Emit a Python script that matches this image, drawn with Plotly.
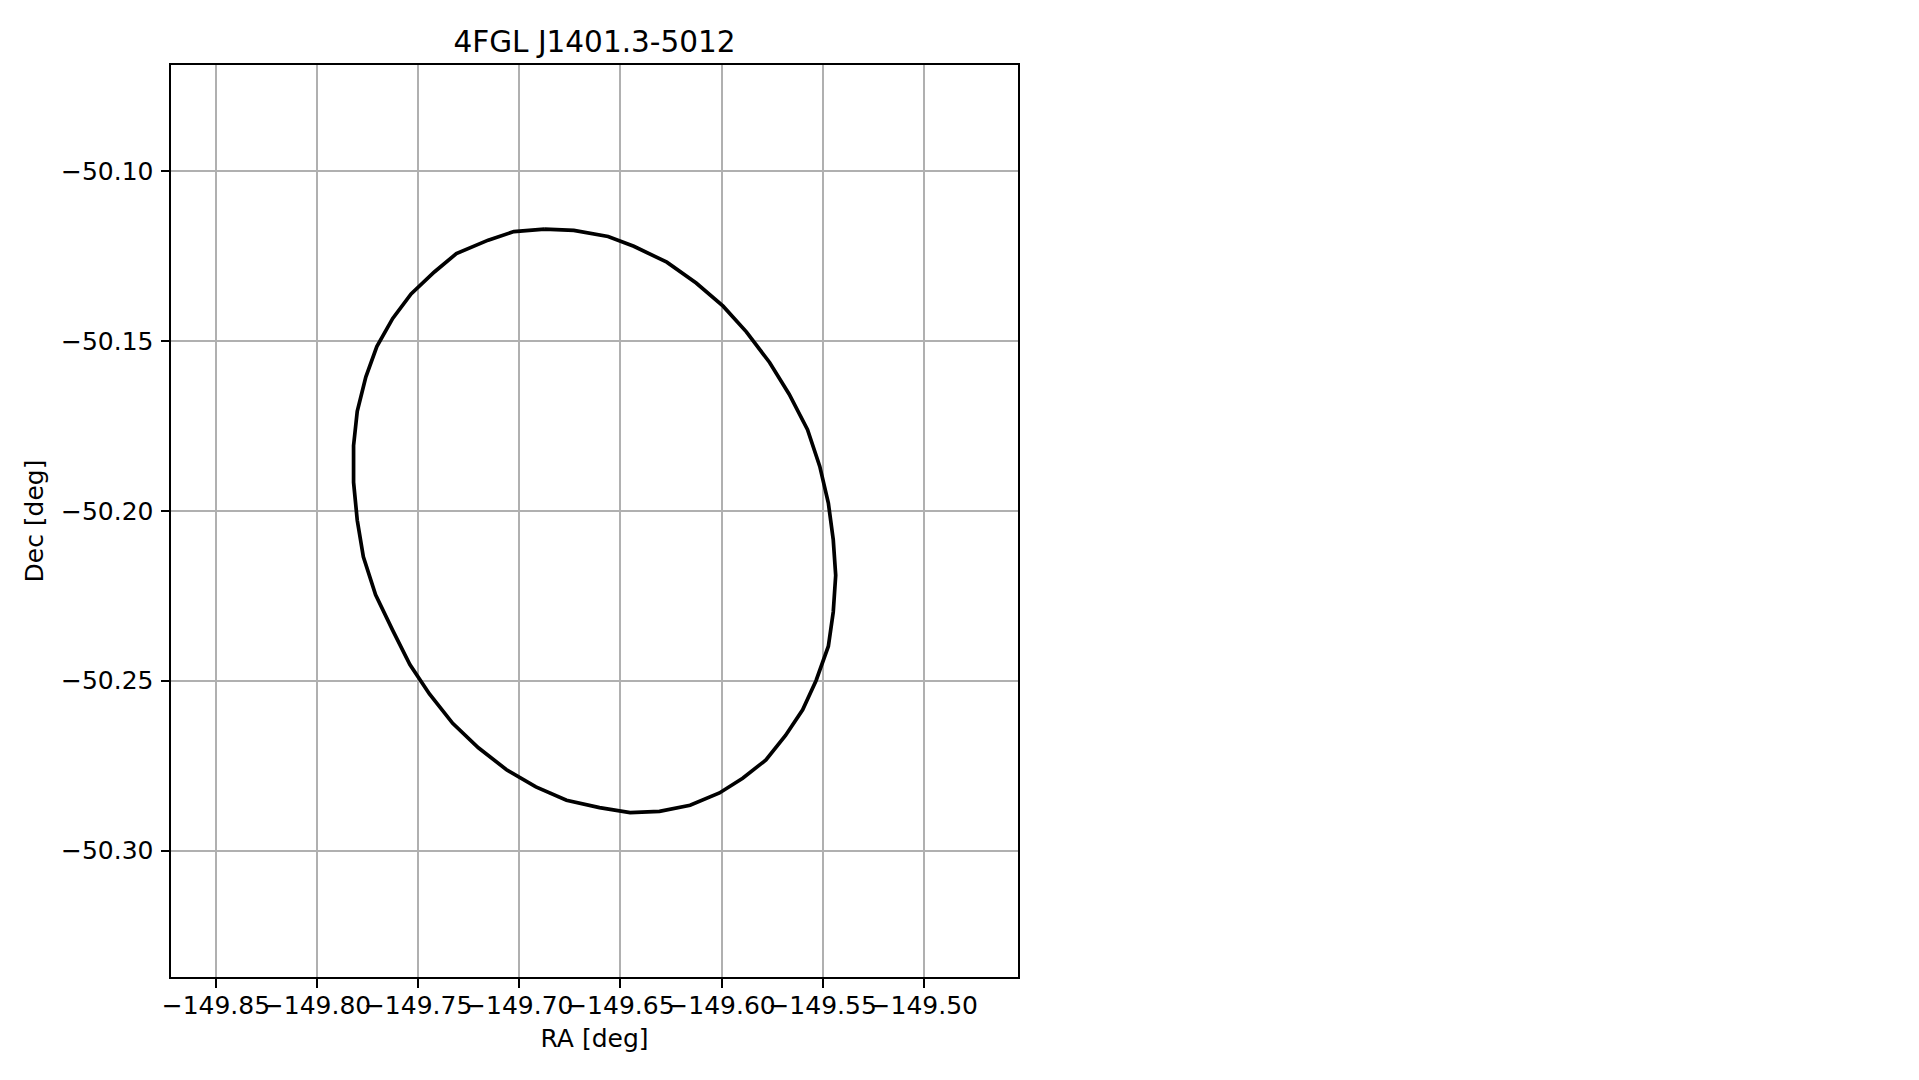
import plotly.graph_objects as go

# Ellipse vertices
ra = [-149.68754, -149.67302, -149.65608, -149.64337, -149.62704, -149.61252, -149.59921,
      -149.58771, -149.57622, -149.56654, -149.55746, -149.55141, -149.54717, -149.54475,
      -149.54354, -149.54475, -149.54717, -149.55322, -149.55988, -149.56835, -149.57803,
      -149.58953, -149.60102, -149.61554, -149.63067, -149.64519, -149.66032, -149.67665,
      -149.69178, -149.70630, -149.72021, -149.73292, -149.74441, -149.75409, -149.76257,
      -149.77104, -149.77709, -149.78011, -149.78193, -149.78193, -149.78011, -149.77588,
      -149.77043, -149.76257, -149.75349, -149.74199, -149.73110, -149.71537, -149.70267,
      -149.68754]
dec = [-50.11711, -50.11747, -50.11927, -50.12215, -50.12683, -50.13295, -50.13978,
       -50.14734, -50.15634, -50.16570, -50.17614, -50.18693, -50.19773, -50.20853,
       -50.21897, -50.22977, -50.23985, -50.24993, -50.25857, -50.26613, -50.27333,
       -50.27872, -50.28304, -50.28664, -50.28844, -50.28880, -50.28736, -50.28520,
       -50.28124, -50.27620, -50.26973, -50.26253, -50.25389, -50.24525, -50.23517,
       -50.22473, -50.21357, -50.20277, -50.19161, -50.18082, -50.17074, -50.16066,
       -50.15166, -50.14338, -50.13618, -50.12971, -50.12431, -50.12035, -50.11783,
       -50.11711]

x_tickvals = [-149.85, -149.80, -149.75, -149.70, -149.65, -149.60, -149.55, -149.50]
x_ticktext = ["\u2212149.85", "\u2212149.80", "\u2212149.75", "\u2212149.70",
              "\u2212149.65", "\u2212149.60", "\u2212149.55", "\u2212149.50"]
y_tickvals = [-50.10, -50.15, -50.20, -50.25, -50.30]
y_ticktext = ["\u221250.10", "\u221250.15", "\u221250.20", "\u221250.25", "\u221250.30"]

x_range = [-149.8722, -149.4534]
y_range = [-50.3372, -50.0688]

title_text = "4FGL J1401.3-5012"

FONT = "DejaVu Sans"

fig = go.Figure()
fig.add_trace(go.Scatter(x=ra, y=dec, mode="lines",
                         line=dict(color="#000000", width=3.7),
                         showlegend=False, hoverinfo="skip"))

axis_common = dict(
    showgrid=True, gridcolor="#b0b0b0", gridwidth=2,
    zeroline=False,
    showline=True, linecolor="#000000", linewidth=2, mirror=True,
    ticks="outside", ticklen=8.5, tickwidth=2, tickcolor="#000000",
    tickfont=dict(family=FONT, size=25, color="#000000"),
)

fig.update_xaxes(range=x_range, tickmode="array", tickvals=x_tickvals, ticktext=x_ticktext,
                 tickangle=0,
                 title=dict(text="RA [deg]", font=dict(family=FONT, size=25, color="#000000"),
                            standoff=11),
                 ticklabelstandoff=-4,
                 **axis_common)
fig.update_yaxes(range=y_range, tickmode="array", tickvals=y_tickvals, ticktext=y_ticktext,
                 title=dict(text="Dec [deg]", font=dict(family=FONT, size=25, color="#000000"),
                            standoff=10),
                 ticklabelstandoff=2,
                 **axis_common)

L, T, W, H = 163, 57, 847, 912
fig.update_layout(
    width=1919, height=1080,
    margin=dict(l=L, r=1919 - L - W, t=T, b=1080 - T - H, autoexpand=False),
    paper_bgcolor="#ffffff", plot_bgcolor="#ffffff",
    font=dict(family=FONT, size=25, color="#000000"),
    title=dict(text=title_text, x=(L + W / 2) / 1919, xanchor="center",
               y=1 - 33.5 / 1080, yanchor="middle",
               font=dict(family=FONT, size=29.5, color="#000000")),
)

fig.write_html("out.html")
